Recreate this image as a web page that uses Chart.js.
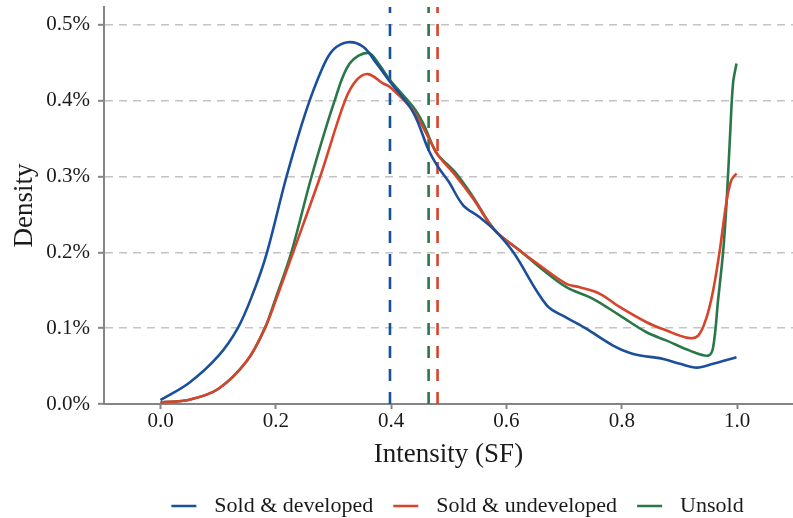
<!DOCTYPE html>
<html>
<head>
<meta charset="utf-8">
<script src="https://cdn.jsdelivr.net/npm/chart.js@4.4.1/dist/chart.umd.min.js"></script>
<style>
  html, body { margin: 0; padding: 0; background: #fff; }
  #wrap { width: 793px; height: 518px; }
</style>
</head>
<body>
<div id="wrap"><canvas id="density"></canvas></div>
<script>
// density curves (y in percent)
const devX = [0.00, 0.05, 0.10, 0.134, 0.16, 0.184, 0.2186, 0.253, 0.282, 0.2994, 0.325, 0.3515, 0.3747, 0.398, 0.438, 0.465, 0.4815, 0.50, 0.525, 0.553, 0.58, 0.612, 0.67, 0.704, 0.739, 0.785, 0.82, 0.872, 0.901, 0.93, 0.9585, 0.999];
const devY = [0.005, 0.028, 0.063, 0.100, 0.145, 0.198, 0.300, 0.3875, 0.445, 0.467, 0.477, 0.471, 0.449, 0.425, 0.385, 0.335, 0.3125, 0.293, 0.262, 0.2465, 0.229, 0.200, 0.130, 0.114, 0.099, 0.077, 0.066, 0.0594, 0.053, 0.048, 0.053, 0.0616];

const undevX = [0.00, 0.05, 0.10, 0.15, 0.181, 0.20, 0.230, 0.277, 0.32, 0.34, 0.36, 0.386, 0.398, 0.438, 0.467, 0.4815, 0.513, 0.542, 0.58, 0.623, 0.658, 0.704, 0.727, 0.762, 0.797, 0.843, 0.878, 0.915, 0.9325, 0.947, 0.9585, 0.970, 0.982, 0.990, 0.999];
const undevY = [0.002, 0.0057, 0.0198, 0.057, 0.100, 0.137, 0.200, 0.300, 0.400, 0.427, 0.435, 0.4227, 0.418, 0.387, 0.348, 0.328, 0.300, 0.271, 0.229, 0.2025, 0.1827, 0.1585, 0.154, 0.1453, 0.1276, 0.1078, 0.0968, 0.0872, 0.090, 0.114, 0.1497, 0.2025, 0.2685, 0.295, 0.304];

const unsoldX = [0.00, 0.05, 0.10, 0.15, 0.181, 0.20, 0.227, 0.262, 0.302, 0.328, 0.36, 0.38, 0.398, 0.438, 0.4555, 0.473, 0.4815, 0.513, 0.542, 0.58, 0.623, 0.658, 0.704, 0.75, 0.797, 0.843, 0.878, 0.918, 0.95, 0.9585, 0.967, 0.976, 0.982, 0.988, 0.993, 0.999];
const unsoldY = [0.002, 0.0057, 0.0198, 0.057, 0.100, 0.140, 0.200, 0.300, 0.400, 0.449, 0.463, 0.447, 0.427, 0.392, 0.370, 0.339, 0.328, 0.304, 0.273, 0.229, 0.2025, 0.180, 0.154, 0.1387, 0.1166, 0.0946, 0.0836, 0.0704, 0.0638, 0.0748, 0.1365, 0.2025, 0.2685, 0.3567, 0.4227, 0.449];

const seriesNames = ['Sold & developed', 'Sold & undeveloped', 'Unsold'];
const seriesColors = ['#1b4f9c', '#d8432b', '#2a774a'];
const means = [0.398, 0.4805, 0.465];

const xTicks = [0.0, 0.2, 0.4, 0.6, 0.8, 1.0];
const yTicks = [0.0, 0.1, 0.2, 0.3, 0.4, 0.5];
const yMax = 0.5235;

const SERIF = "'Liberation Serif', 'Times New Roman', serif";

// short legend stroke with some blank space in front of it
function legendLine(color) {
    const c = document.createElement('canvas');
    c.width = 50;
    c.height = 4;
    const g = c.getContext('2d');
    g.fillStyle = color;
    g.fillRect(18, 0.75, 25, 2.5);
    return c;
}

function toPoints(xs, ys) {
    return xs.map((x, i) => ({x: x, y: ys[i]}));
}

const curves = [[devX, devY], [undevX, undevY], [unsoldX, unsoldY]].map((s, i) => ({
    label: seriesNames[i],
    data: toPoints(s[0], s[1]),
    borderColor: seriesColors[i],
    backgroundColor: seriesColors[i],
    borderWidth: 2.6,
    pointRadius: 0,
    pointStyle: legendLine(seriesColors[i]),
    tension: 0.35,
    fill: false
}));

// vertical dashed lines at each group's mean
const meanLines = means.map((m, i) => ({
    label: 'mean-' + i,
    data: [{x: m, y: 0}, {x: m, y: yMax}],
    borderColor: seriesColors[i],
    borderWidth: 2.6,
    borderDash: [12, 11],
    pointRadius: 0,
    fill: false
}));

new Chart(document.getElementById('density'), {
    type: 'line',
    data: { datasets: curves.concat(meanLines) },
    options: {
        responsive: true,
        maintainAspectRatio: false,
        animation: false,
        layout: { padding: { top: 7, right: 0, bottom: 0, left: 0 } },
        plugins: {
            tooltip: { enabled: false },
            legend: {
                position: 'bottom',
                fullSize: false,
                maxHeight: 25,
                labels: {
                    usePointStyle: true,
                    pointStyleWidth: 50,
                    padding: 2,
                    color: '#1a1a1a',
                    font: { family: SERIF, size: 22 },
                    filter: item => item.datasetIndex < 3
                }
            }
        },
        scales: {
            x: {
                type: 'linear',
                min: -0.098,
                max: 1.097,
                afterBuildTicks: axis => { axis.ticks = xTicks.map(v => ({value: v})); },
                afterFit: axis => { axis.height = 89; },
                grid: {
                    drawOnChartArea: false,
                    drawTicks: true,
                    tickLength: 5,
                    tickColor: '#858585',
                    tickWidth: 2
                },
                border: { display: true, color: '#858585', width: 2 },
                ticks: {
                    padding: 0,
                    color: '#1a1a1a',
                    font: { family: SERIF, size: 21, lineHeight: 1.2 },
                    callback: v => v.toFixed(1)
                },
                title: {
                    display: true,
                    text: 'Intensity (SF)',
                    color: '#1a1a1a',
                    font: { family: SERIF, size: 27, lineHeight: 1.2 },
                    padding: { top: 0, bottom: 22 }
                }
            },
            y: {
                min: 0,
                max: yMax,
                afterBuildTicks: axis => { axis.ticks = yTicks.map(v => ({value: v})); },
                afterFit: axis => {
                    axis.width = 104;
                    axis.paddingTop = 0;
                    axis.paddingBottom = 0;
                },
                grid: {
                    color: c => (c.tick && c.tick.value === 0) ? 'rgba(0,0,0,0)' : '#c4c4c4',
                    lineWidth: 1.6,
                    drawTicks: true,
                    tickLength: 6,
                    tickColor: '#858585',
                    tickWidth: 2,
                    tickBorderDash: []
                },
                border: { display: true, color: '#858585', width: 2, dash: [8, 6] },
                ticks: {
                    padding: 8,
                    color: '#1a1a1a',
                    font: { family: SERIF, size: 21 },
                    callback: v => v.toFixed(1) + '%'
                },
                title: {
                    display: true,
                    text: 'Density',
                    color: '#1a1a1a',
                    font: { family: SERIF, size: 27, lineHeight: 1.2 },
                    padding: { top: 9, bottom: 0 }
                }
            }
        }
    }
});
</script>
</body>
</html>
